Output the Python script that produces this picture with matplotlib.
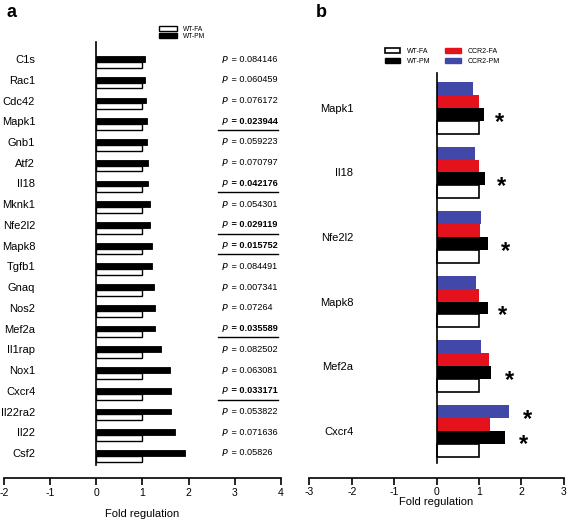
import matplotlib
matplotlib.use("Agg")
import matplotlib.pyplot as plt
from matplotlib.patches import Patch

plt.rcParams['font.family'] = ['Liberation Sans', 'DejaVu Sans']

# panel a data
genes_a = ['C1s', 'Rac1', 'Cdc42', 'Mapk1', 'Gnb1', 'Atf2', 'Il18', 'Mknk1', 'Nfe2l2', 'Mapk8',
           'Tgfb1', 'Gnaq', 'Nos2', 'Mef2a', 'Il1rap', 'Nox1', 'Cxcr4', 'Il22ra2', 'Il22', 'Csf2']
wt_fa_a = [1.0] * 20
wt_pm_a = [1.06, 1.06, 1.07, 1.09, 1.09, 1.11, 1.11, 1.17, 1.17, 1.20,
           1.21, 1.24, 1.27, 1.27, 1.40, 1.59, 1.61, 1.61, 1.70, 1.93]
pvals = ['0.084146', '0.060459', '0.076172', '0.023944', '0.059223', '0.070797', '0.042176',
         '0.054301', '0.029119', '0.015752', '0.084491', '0.007341', '0.07264', '0.035589',
         '0.082502', '0.063081', '0.033171', '0.053822', '0.071636', '0.05826']
bold_p = [False, False, False, True, False, False, True, False, True, True,
          False, False, False, True, False, False, True, False, False, False]

# panel b data
genes_b = ['Mapk1', 'Il18', 'Nfe2l2', 'Mapk8', 'Mef2a', 'Cxcr4']
wt_fa_b = [1.0, 1.0, 1.0, 1.0, 1.0, 1.0]
wt_pm_b = [1.11, 1.15, 1.20, 1.20, 1.28, 1.62]
ccr2_fa_b = [0.99, 1.00, 1.02, 0.99, 1.23, 1.25]
ccr2_pm_b = [0.86, 0.91, 1.04, 0.92, 1.05, 1.70]
star_pm_x = [1.49, 1.54, 1.63, 1.56, 1.72, 2.06]
star_ccr2pm_x = [None, None, None, None, None, 2.15]

red = '#e3121c'
blue = '#4148a8'

fig = plt.figure(figsize=(5.67, 5.19), dpi=100)

# ---------- panel a ----------
ax = fig.add_axes([0.00705, 0.104, 0.4885, 0.815])
ya = list(range(len(genes_a)))
h = 0.28
ax.barh([y for y in ya], wt_pm_a, height=h, color='black', edgecolor='black', linewidth=0.6)
ax.barh([y + h for y in ya], wt_fa_a, height=h, color='white', edgecolor='black', linewidth=1.0)
ax.set_xlim(-2, 4)
ax.set_ylim(19.58, -0.82)
for s in ['top', 'right']:
    ax.spines[s].set_visible(False)
ax.spines['left'].set_position(('data', 0))
ax.spines['bottom'].set_position(('outward', 9.4))
ax.spines['left'].set_linewidth(1.2)
ax.spines['bottom'].set_linewidth(1.2)
ax.set_yticks(ya)
ax.set_yticklabels(genes_a, fontsize=8)
ax.tick_params(axis='y', length=0, pad=44)
ax.set_xticks(range(-2, 5))
ax.set_xticklabels([str(v) for v in range(-2, 5)], fontsize=7.5)
ax.tick_params(axis='x', length=5, width=1.2, pad=2)
ax.set_xlabel('Fold regulation', fontsize=8, labelpad=8)
for y, p, b in zip(ya, pvals, bold_p):
    wt = 'bold' if b else 'normal'
    ax.text(2.71, y, '$\\it{P}$', fontsize=6.8, va='center', ha='left')
    ax.text(2.87, y, ' = ' + p, fontsize=6.6, va='center', ha='left', fontweight=wt)
    if b:
        ax.plot([2.64, 3.93], [y + 0.42, y + 0.42], color='black', lw=1.0)
ax.legend(handles=[Patch(facecolor='white', edgecolor='black', linewidth=1.0, label='WT-FA'),
                   Patch(facecolor='black', edgecolor='black', label='WT-PM')],
          loc='center left', bbox_to_anchor=(0.275, 0.937), bbox_transform=fig.transFigure,
          frameon=False, fontsize=4.8, handlelength=2.7, handleheight=0.8,
          labelspacing=0.05, handletextpad=0.8, borderpad=0)
fig.text(0.012, 0.975, 'a', fontsize=13, fontweight='bold', va='center')

# ---------- panel b ----------
bx = fig.add_axes([0.5455, 0.1079, 0.449, 0.7514])
yb = list(range(len(genes_b)))
hb = 0.2
bx.barh([y - 1.5 * hb for y in yb], ccr2_pm_b, height=hb, color=blue, edgecolor=blue, linewidth=0)
bx.barh([y - 0.5 * hb for y in yb], ccr2_fa_b, height=hb, color=red, edgecolor=red, linewidth=0)
bx.barh([y + 0.5 * hb for y in yb], wt_pm_b, height=hb, color='black', edgecolor='black', linewidth=0)
bx.barh([y + 1.5 * hb for y in yb], wt_fa_b, height=hb, color='white', edgecolor='black', linewidth=1.2)
bx.set_xlim(-3, 3)
bx.set_ylim(5.5, -0.54)
for s in ['top', 'right']:
    bx.spines[s].set_visible(False)
bx.spines['left'].set_position(('data', 0))
bx.spines['bottom'].set_position(('outward', 10.6))
bx.spines['left'].set_linewidth(1.2)
bx.spines['bottom'].set_linewidth(1.2)
bx.set_yticks(yb)
bx.set_yticklabels(genes_b, fontsize=8)
bx.tick_params(axis='y', length=0, pad=60)
bx.set_xticks(range(-3, 4))
bx.set_xticklabels([str(v) for v in range(-3, 4)], fontsize=7.5)
bx.tick_params(axis='x', length=5, width=1.2, pad=1.5)
bx.set_xlabel('Fold regulation', fontsize=8, labelpad=0.5)
for y, sx in zip(yb, star_pm_x):
    bx.text(sx, y + 0.5 * hb + 0.12, '*', fontsize=17, fontweight='bold', ha='center', va='center')
for y, sx in zip(yb, star_ccr2pm_x):
    if sx is not None:
        bx.text(sx, y - 1.5 * hb + 0.12, '*', fontsize=17, fontweight='bold', ha='center', va='center')
bx.legend(handles=[Patch(facecolor='white', edgecolor='black', linewidth=1.2, label='WT-FA'),
                   Patch(facecolor='black', edgecolor='black', label='WT-PM'),
                   Patch(facecolor=red, edgecolor=red, label='CCR2-FA'),
                   Patch(facecolor=blue, edgecolor=blue, label='CCR2-PM')],
          ncol=2, loc='center left', bbox_to_anchor=(0.673, 0.891), bbox_transform=fig.transFigure,
          frameon=False, fontsize=5, handlelength=2.2, handleheight=0.8,
          labelspacing=0.45, handletextpad=1.0, columnspacing=2.1, borderpad=0)
fig.text(0.557, 0.975, 'b', fontsize=13, fontweight='bold', va='center')

fig.savefig('out.png', dpi=100)
